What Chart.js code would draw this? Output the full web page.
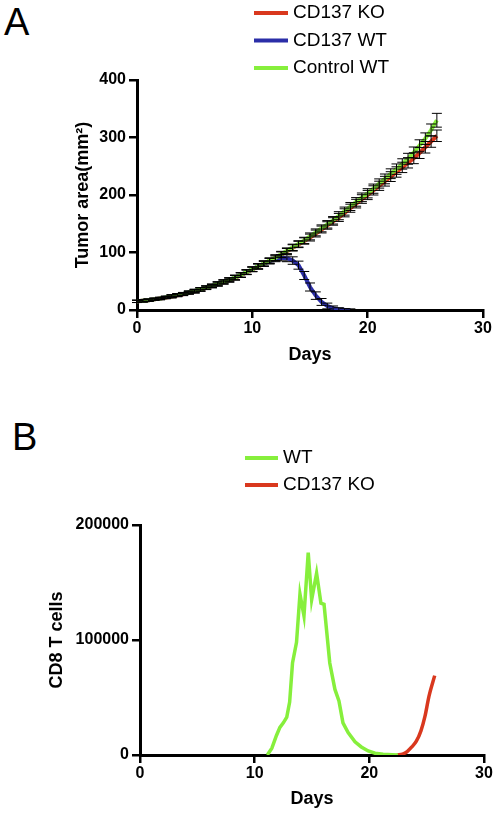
<!DOCTYPE html>
<html>
<head>
<meta charset="utf-8">
<script src="https://cdn.jsdelivr.net/npm/chart.js"></script>
<style>
  html, body { margin: 0; padding: 0; background: #fff; }
  body { width: 498px; height: 815px; position: relative; overflow: hidden;
         font-family: "Liberation Sans", Arial, Helvetica, sans-serif; }
  .panel-letter { position: absolute; font-size: 38px; line-height: 38px; color: #000; }
  canvas { position: absolute; left: 0; }
</style>
</head>
<body>
<div class="panel-letter" style="left:4px; top:3px;">A</div>
<div class="panel-letter" style="left:12px; top:418px;">B</div>
<canvas id="tumor-chart" width="498" height="380" style="top:0;"></canvas>
<canvas id="cd8-chart" width="498" height="435" style="top:380px;"></canvas>
<script>
// ---- Panel A: tumor area (mean +/- error) ----
const tumorDays = [0, 0.5, 1, 1.5, 2, 2.5, 3, 3.5, 4, 4.5, 5, 5.5, 6, 6.5, 7, 7.5, 8, 8.5, 9, 9.5,
    10, 10.5, 11, 11.5, 12, 12.5, 13, 13.5, 14, 14.5, 15, 15.5, 16, 16.5, 17, 17.5, 18, 18.5, 19, 19.5,
    20, 20.5, 21, 21.5, 22, 22.5, 23, 23.5, 24, 24.5, 25, 25.5, 26];

const cd137KoArea = [15, 16, 17, 18.5, 20, 21.5, 23.5, 25.5, 27.5, 30, 32.5, 35.5, 38.5, 41.5, 45, 48.5, 52, 56, 60.5, 65.5,
    70.5, 75.5, 80.5, 85.5, 90.5, 96, 102, 108, 114, 120, 126, 133, 140, 147, 154, 161, 169, 177, 185, 193,
    200, 208, 216, 224, 232, 240, 248, 256, 264, 273, 283, 293, 303];
const cd137KoErr = [2, 2, 2, 2, 2, 2, 2.5, 2.5, 2.5, 2.5, 3, 3, 3, 3, 3.5, 3.5, 3.5, 4, 4, 4,
    4, 4.5, 4.5, 4.5, 5, 5, 5, 5.5, 5.5, 5.5, 6, 6, 6, 6.5, 6.5, 7, 7, 7, 7.5, 7.5,
    8, 8, 8, 8.5, 8.5, 9, 9, 9, 9.5, 9.5, 10, 10, 10];

const cd137WtDays = tumorDays.slice(0, 38);
const cd137WtArea = [15, 16, 17, 18.5, 20, 22, 24, 26, 28, 30.5, 33, 36, 39, 42, 45.5, 49, 52.5, 56.5, 61, 66,
    71, 76, 80.5, 85, 89, 91, 90, 86, 78, 60, 40, 25, 14, 7, 3, 1, 0.3, 0];
const cd137WtErr = [2, 2, 2, 2, 2, 2, 2.5, 2.5, 2.5, 2.5, 3, 3, 3, 3, 3.5, 3.5, 3.5, 4, 4, 4,
    4, 4.5, 4.5, 5, 5, 5.5, 6, 6.5, 7, 7, 7, 6.5, 6, 5, 4, 3, 2, 2];

const controlWtArea = [15, 16, 17, 18.5, 20, 22, 24, 26, 28, 30.5, 33, 36, 39, 42, 45.5, 49, 52.5, 56.5, 61, 66,
    71, 76, 81, 86, 91, 97, 103, 109, 115, 121, 128, 135, 142, 149, 156, 164, 172, 180, 188, 196,
    203, 211, 220, 228, 237, 245, 254, 263, 274, 286, 298, 313, 330];
const controlWtErr = [2, 2, 2, 2, 2, 2, 2.5, 2.5, 2.5, 2.5, 3, 3, 3, 3, 3.5, 3.5, 3.5, 4, 4, 4,
    4, 4.5, 4.5, 4.5, 5, 5, 5, 5.5, 5.5, 5.5, 6, 6, 6, 6.5, 6.5, 7, 7, 7, 7.5, 7.5,
    8, 8, 8, 8.5, 8.5, 9, 9, 9.5, 9.5, 10, 10, 10.5, 12];

const tumorYTicks = [0, 100, 200, 300, 400];
const daysTicks = [0, 10, 20, 30];

// ---- Panel B: CD8 T cell counts ----
const wtDays = [11.1, 11.5, 11.9, 12.2, 12.5, 12.8, 13.05, 13.3, 13.65, 13.95, 14.3, 14.67, 14.97, 15.4,
    15.78, 16.05, 16.55, 17.0, 17.35, 17.7, 18.15, 18.75, 19.3, 19.9, 20.5, 21.2, 22.0, 22.5];
const wtCells = [0, 6000, 17000, 24000, 28000, 33000, 46000, 80000, 98000, 140000, 121000, 176000, 135000, 158000,
    132000, 131000, 80000, 57000, 47000, 28000, 19500, 11500, 7000, 3500, 1500, 600, 200, 0];

const koDays = [22.4, 22.9, 23.3, 23.7, 24.1, 24.5, 24.85, 25.2, 25.7];
const koCells = [0, 800, 3000, 7000, 12000, 21000, 33500, 51000, 69000];

const cellYTicks = [0, 100000, 200000];

const RED = '#d9381e';
const BLUE = '#2b2ea8';
const GREEN = '#86ef3c';

Chart.defaults.font.family = '"Liberation Sans", Arial, Helvetica, sans-serif';
Chart.defaults.color = '#000';

function points(xs, ys) {
    return xs.map((x, i) => ({ x: x, y: ys[i] }));
}

// legend stacked in rows, placed by the panel
const stackedLegend = {
    id: 'stackedLegend',
    afterDraw(chart, args, opts) {
        const ctx = chart.ctx;
        ctx.save();
        ctx.font = opts.font;
        ctx.textBaseline = 'middle';
        ctx.textAlign = 'left';
        opts.order.forEach((idx, row) => {
            const ds = chart.data.datasets[idx];
            const y = opts.top + row * opts.gap;
            ctx.strokeStyle = ds.borderColor;
            ctx.lineWidth = opts.lineWidth;
            ctx.beginPath();
            ctx.moveTo(opts.left, y);
            ctx.lineTo(opts.left + opts.lineLen, y);
            ctx.stroke();
            ctx.fillStyle = '#000';
            ctx.fillText(ds.label, opts.left + opts.lineLen + opts.textGap, y);
        });
        ctx.restore();
    }
};

// vertical error bars with caps
const errorBars = {
    id: 'errorBars',
    afterDatasetsDraw(chart, args, opts) {
        const ctx = chart.ctx;
        const xs = chart.scales.x;
        const ys = chart.scales.y;
        ctx.save();
        ctx.strokeStyle = opts.color;
        ctx.lineWidth = opts.width;
        chart.data.datasets.forEach(ds => {
            if (!ds.errors) return;
            ds.data.forEach((p, i) => {
                const e = ds.errors[i];
                const x = xs.getPixelForValue(p.x);
                const yTop = ys.getPixelForValue(p.y + e);
                const yBot = ys.getPixelForValue(Math.max(p.y - e, 0));
                ctx.beginPath();
                ctx.moveTo(x, yTop);
                ctx.lineTo(x, yBot);
                ctx.moveTo(x - opts.cap, yTop);
                ctx.lineTo(x + opts.cap, yTop);
                if (p.y - e > 0) {
                    ctx.moveTo(x - opts.cap, yBot);
                    ctx.lineTo(x + opts.cap, yBot);
                }
                ctx.stroke();
            });
        });
        ctx.restore();
    }
};

function axis(opts) {
    return {
        type: 'linear',
        min: opts.ticks[0],
        max: opts.ticks[opts.ticks.length - 1],
        afterBuildTicks: (s) => { s.ticks = opts.ticks.map(v => ({ value: v })); },
        ticks: {
            font: { size: 16, weight: 'bold' },
            color: '#000',
            padding: opts.tickPad,
            maxRotation: 0,
            autoSkip: false,
            callback: (v) => String(v)
        },
        grid: { drawOnChartArea: false, drawTicks: true, tickLength: 8, color: '#000', lineWidth: 2.5 },
        border: { color: '#000', width: 3 },
        title: {
            display: true,
            text: opts.title,
            font: { size: 18, weight: 'bold' },
            color: '#000',
            padding: opts.titlePad
        },
        afterFit: (s) => {
            if (opts.width) s.width = opts.width;
            if (opts.height) s.height = opts.height;
            s.paddingLeft = 0; s.paddingRight = 0; s.paddingTop = 0; s.paddingBottom = 0;
        }
    };
}

new Chart(document.getElementById('tumor-chart'), {
    type: 'line',
    data: {
        datasets: [
            { label: 'CD137 KO', data: points(tumorDays, cd137KoArea), errors: cd137KoErr,
              borderColor: RED, borderWidth: 4, pointRadius: 0, order: 2 },
            { label: 'CD137 WT', data: points(cd137WtDays, cd137WtArea), errors: cd137WtErr,
              borderColor: BLUE, borderWidth: 4, pointRadius: 0, order: 1 },
            { label: 'Control WT', data: points(tumorDays, controlWtArea), errors: controlWtErr,
              borderColor: GREEN, borderWidth: 4, pointRadius: 0, order: 0 }
        ]
    },
    options: {
        responsive: false,
        animation: false,
        events: [],
        layout: { padding: { left: 0, top: 80, right: 15, bottom: 0 } },
        scales: {
            x: axis({ ticks: daysTicks, title: 'Days', tickPad: 1, titlePad: { top: 0, bottom: 14 }, height: 70 }),
            y: axis({ ticks: tumorYTicks, title: 'Tumor area(mm²)', tickPad: 3, titlePad: { top: 72, bottom: 0 }, width: 137 })
        },
        plugins: {
            legend: { display: false },
            tooltip: { enabled: false },
            stackedLegend: { order: [0, 1, 2], left: 254, top: 13, gap: 27.5, lineLen: 34, textGap: 5,
                             lineWidth: 4, font: '19px "Liberation Sans", Arial, sans-serif' },
            errorBars: { color: '#000', width: 1, cap: 5 }
        }
    },
    plugins: [errorBars, stackedLegend]
});

new Chart(document.getElementById('cd8-chart'), {
    type: 'line',
    data: {
        datasets: [
            { label: 'WT', data: points(wtDays, wtCells),
              borderColor: GREEN, borderWidth: 3.5, pointRadius: 0, tension: 0 },
            { label: 'CD137 KO', data: points(koDays, koCells),
              borderColor: RED, borderWidth: 3.5, pointRadius: 0, cubicInterpolationMode: 'monotone' }
        ]
    },
    options: {
        responsive: false,
        animation: false,
        events: [],
        layout: { padding: { left: 0, top: 145, right: 14, bottom: 0 } },
        scales: {
            x: axis({ ticks: daysTicks, title: 'Days', tickPad: 1, titlePad: { top: 0, bottom: 5 }, height: 60 }),
            y: axis({ ticks: cellYTicks, title: 'CD8 T cells', tickPad: 3, titlePad: { top: 46, bottom: 0 }, width: 140 })
        },
        plugins: {
            legend: { display: false },
            tooltip: { enabled: false },
            stackedLegend: { order: [0, 1], left: 245, top: 78, gap: 27, lineLen: 33, textGap: 5,
                             lineWidth: 4, font: '19px "Liberation Sans", Arial, sans-serif' }
        }
    },
    plugins: [stackedLegend]
});
</script>
</body>
</html>
